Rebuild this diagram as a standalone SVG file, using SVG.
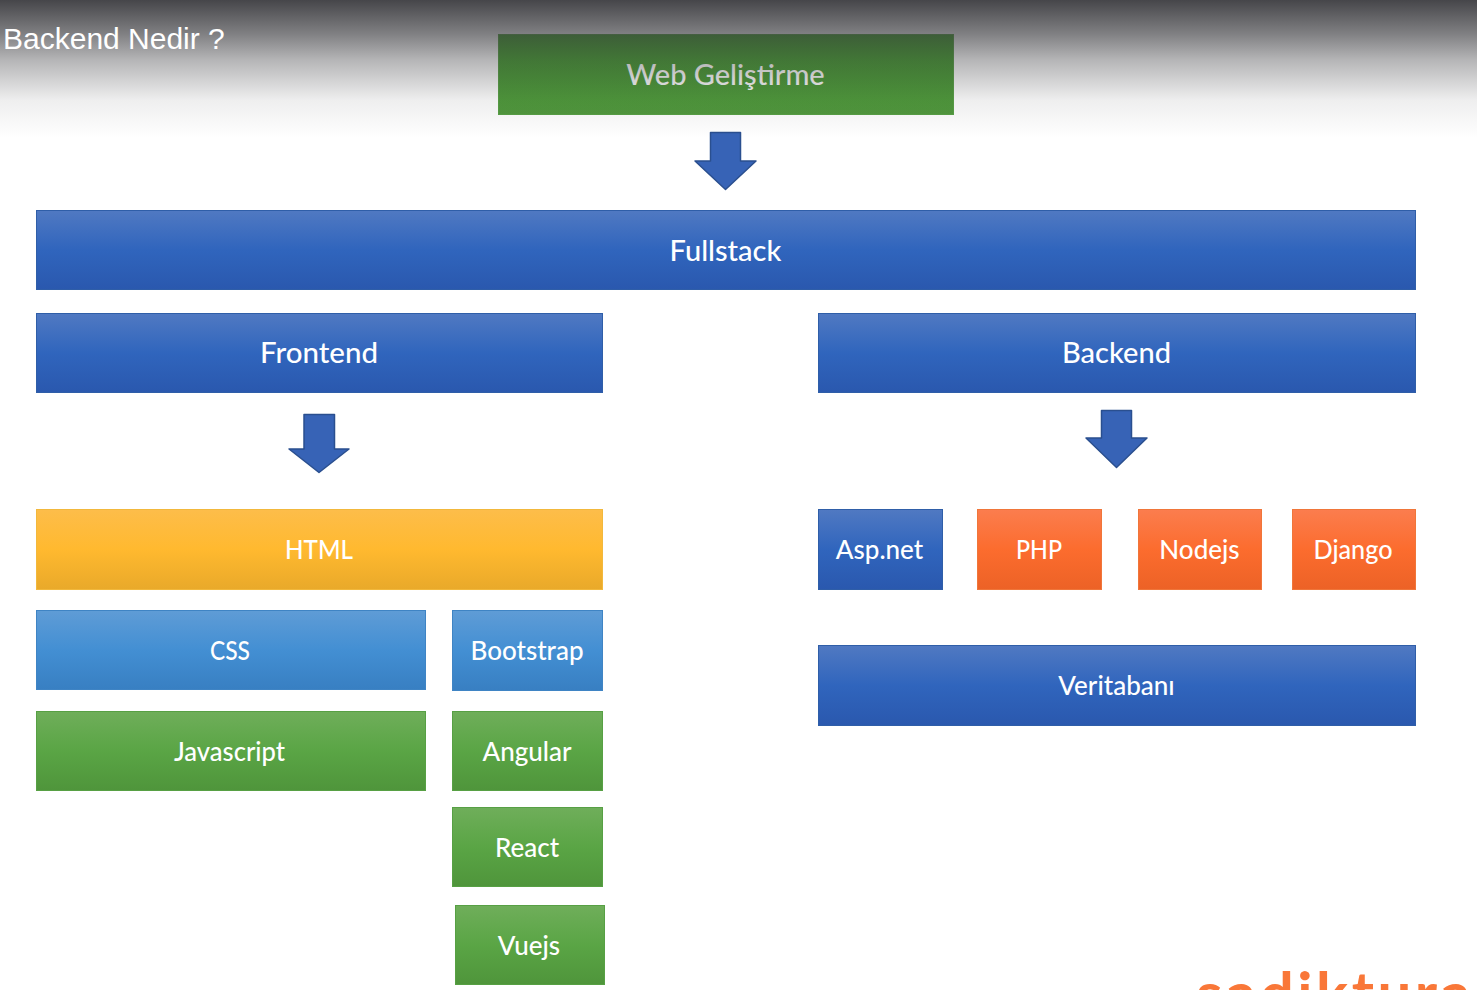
<svg xmlns="http://www.w3.org/2000/svg" width="1477" height="990" viewBox="0 0 1477 990">
<style>
.lbl{font-family:"Lato","Noto Sans",sans-serif;fill:#fff;text-anchor:middle;font-weight:500}
.big{font-size:29px}
.mid{font-size:26px}
.arrow{fill:#3763b6;stroke:#2a4f8f;stroke-width:1.5;stroke-linejoin:round}
.blue{fill:url(#gBlue);stroke:#2f5ea8;stroke-width:1}
.green{fill:url(#gGreen);stroke:#57a044;stroke-width:1}
.orange{fill:url(#gOrange);stroke:#f0763a;stroke-width:1}
.yellow{fill:url(#gYellow);stroke:#f2b83c;stroke-width:1}
.sky{fill:url(#gSky);stroke:#3f84c4;stroke-width:1}
</style>
<defs>
<linearGradient id="gBlue" x1="0" y1="0" x2="0" y2="1"><stop offset="0" stop-color="#5079c2"/><stop offset=".5" stop-color="#3065bd"/><stop offset="1" stop-color="#2a58ae"/></linearGradient>
<linearGradient id="gGreen" x1="0" y1="0" x2="0" y2="1"><stop offset="0" stop-color="#6fae5a"/><stop offset=".5" stop-color="#5aa545"/><stop offset="1" stop-color="#4f953b"/></linearGradient>
<linearGradient id="gWeb" x1="0" y1="0" x2="0" y2="1"><stop offset="0" stop-color="#429c2d"/><stop offset="1" stop-color="#50983c"/></linearGradient>
<linearGradient id="gOrange" x1="0" y1="0" x2="0" y2="1"><stop offset="0" stop-color="#fb7d4e"/><stop offset=".5" stop-color="#fc6c2e"/><stop offset="1" stop-color="#ec6226"/></linearGradient>
<linearGradient id="gYellow" x1="0" y1="0" x2="0" y2="1"><stop offset="0" stop-color="#fdbd4a"/><stop offset=".5" stop-color="#ffb92f"/><stop offset="1" stop-color="#e9a92a"/></linearGradient>
<linearGradient id="gSky" x1="0" y1="0" x2="0" y2="1"><stop offset="0" stop-color="#5f9cd6"/><stop offset=".5" stop-color="#438fd3"/><stop offset="1" stop-color="#387fc2"/></linearGradient>
<linearGradient id="gTop" x1="0" y1="0" x2="0" y2="1"><stop offset="0" stop-color="#3a3a3e" stop-opacity=".94"/><stop offset=".246" stop-color="#3a3a3e" stop-opacity=".645"/><stop offset=".435" stop-color="#3a3a3e" stop-opacity=".375"/><stop offset=".725" stop-color="#3a3a3e" stop-opacity=".086"/><stop offset="1" stop-color="#3a3a3e" stop-opacity="0"/></linearGradient>
</defs>
<rect width="1477" height="990" fill="#fff"/>
<g id="connectors">
<polygon class="arrow" points="710.500,132.500 740.500,132.500 740.500,161 756,161 725.500,189.500 695,161 710.500,161"/>
<polygon class="arrow" points="304,414.500 334.500,414.500 334.500,449 349,449 319,472.500 289,449 304,449"/>
<polygon class="arrow" points="1101.500,410.500 1131.500,410.500 1131.500,438 1147,438 1116.500,467.500 1086,438 1101.500,438"/>
</g>
<g id="web"><rect fill="url(#gWeb)" stroke="#57a044" x="498.500" y="34.500" width="455" height="80"/><text class="lbl big" x="725.500" y="85">Web Geliştirme</text></g>
<g id="fullstack"><rect class="blue" x="36.500" y="210.500" width="1379" height="79"/><text class="lbl big" x="725.500" y="261">Fullstack</text></g>
<g id="frontend"><rect class="blue" x="36.500" y="313.500" width="566" height="79"/><text class="lbl big" x="319" y="363" textLength="118" lengthAdjust="spacingAndGlyphs">Frontend</text></g>
<g id="backend"><rect class="blue" x="818.500" y="313.500" width="597" height="79"/><text class="lbl big" x="1116.500" y="363">Backend</text></g>
<g id="html"><rect class="yellow" x="36.500" y="509.500" width="566" height="80"/><text class="lbl mid" x="319" y="558.500" textLength="68" lengthAdjust="spacingAndGlyphs">HTML</text></g>
<g id="css"><rect class="sky" x="36.500" y="610.500" width="389" height="79"/><text class="lbl mid" x="230" y="659.500" textLength="40" lengthAdjust="spacingAndGlyphs">CSS</text></g>
<g id="bootstrap"><rect class="sky" x="452.500" y="610.500" width="150" height="80"/><text class="lbl mid" x="527" y="659.500">Bootstrap</text></g>
<g id="javascript"><rect class="green" x="36.500" y="711.500" width="389" height="79"/><text class="lbl mid" x="229.500" y="760.500" textLength="111" lengthAdjust="spacingAndGlyphs">Javascript</text></g>
<g id="angular"><rect class="green" x="452.500" y="711.500" width="150" height="79"/><text class="lbl mid" x="527" y="760.500">Angular</text></g>
<g id="react"><rect class="green" x="452.500" y="807.500" width="150" height="79"/><text class="lbl mid" x="527" y="856.500">React</text></g>
<g id="vuejs"><rect class="green" x="455.500" y="905.500" width="149" height="79"/><text class="lbl mid" x="529" y="954.500">Vuejs</text></g>
<g id="aspnet"><rect class="blue" x="818.500" y="509.500" width="124" height="80"/><text class="lbl mid" x="879.500" y="558.500">Asp.net</text></g>
<g id="php"><rect class="orange" x="977.500" y="509.500" width="124" height="80"/><text class="lbl mid" x="1039" y="558.500" textLength="46" lengthAdjust="spacingAndGlyphs">PHP</text></g>
<g id="nodejs"><rect class="orange" x="1138.500" y="509.500" width="123" height="80"/><text class="lbl mid" x="1199.500" y="558.500">Nodejs</text></g>
<g id="django"><rect class="orange" x="1292.500" y="509.500" width="123" height="80"/><text class="lbl mid" x="1353" y="558.500" textLength="79" lengthAdjust="spacingAndGlyphs">Django</text></g>
<g id="veritabani"><rect class="blue" x="818.500" y="645.500" width="597" height="80"/><text class="lbl mid" x="1116.500" y="694.500">Veritabanı</text></g>
<rect id="top-shade" width="1477" height="138" fill="url(#gTop)"/>
<text x="3" y="49" font-family="'Liberation Sans',Arial,sans-serif" font-size="30" fill="#fff">Backend Nedir ?</text>
<text x="1196" y="1015" font-family="'Lato','Noto Sans',sans-serif" font-weight="700" font-size="60" letter-spacing="3.500" fill="#f97738">sadikturan</text>
</svg>
